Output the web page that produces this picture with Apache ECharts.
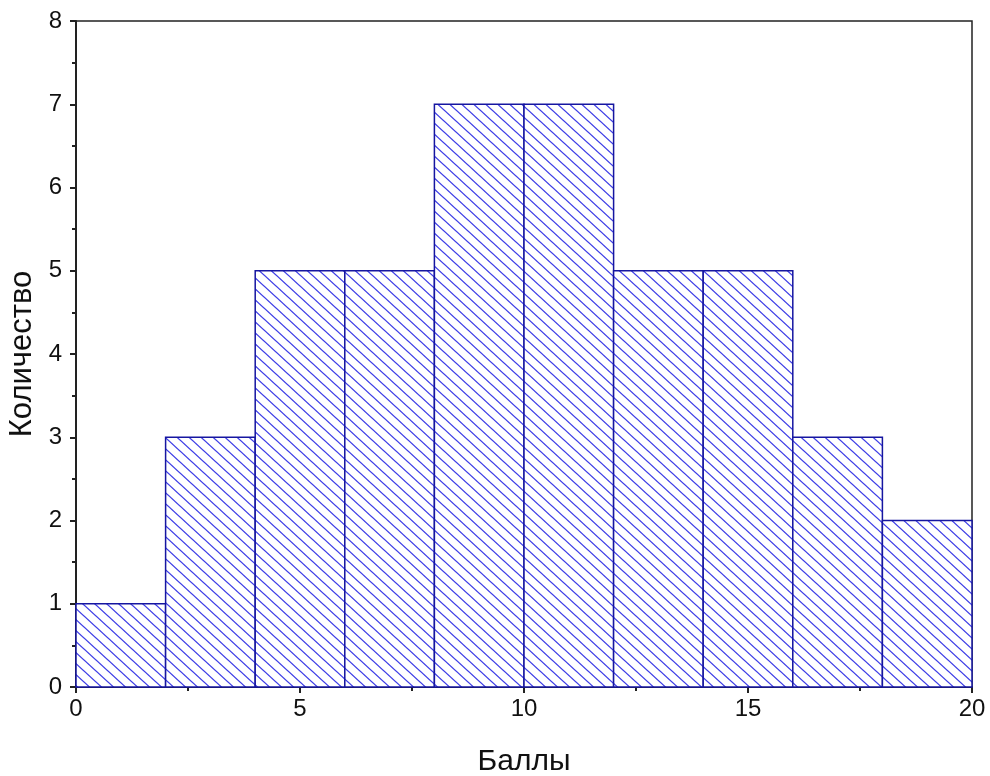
<!DOCTYPE html>
<html>
<head>
<meta charset="utf-8">
<script src="https://cdn.jsdelivr.net/npm/echarts@6/dist/echarts.min.js"></script>
<style>html,body{margin:0;padding:0;background:#fff;}#c{width:990px;height:776px;}</style>
</head>
<body>
<div id="c"></div>
<script>
// Histogram data: bin edges and counts
const binStarts = [0, 2, 4, 6, 8, 10, 12, 14, 16, 18];
const binEnds   = [2, 4, 6, 8, 10, 12, 14, 16, 18, 20];
const counts    = [1, 3, 5, 5, 7, 7, 5, 5, 3, 2];
const xLabel = 'Баллы';
const yLabel = 'Количество';

// hatch pattern
const tile = document.createElement('canvas');
const TW = 12, TH = 11;
tile.width = TW; tile.height = TH;
const g = tile.getContext('2d');
g.fillStyle = '#ffffff';
g.fillRect(0, 0, TW, TH);
g.strokeStyle = '#3a3ae6';
g.lineWidth = 1.25;
for (let dx = -TW; dx <= TW; dx += TW) {
  for (let dy = -TH; dy <= TH; dy += TH) {
    g.beginPath();
    g.moveTo(dx, dy);
    g.lineTo(dx + TW, dy + TH);
    g.stroke();
  }
}

const data = binStarts.map((s, i) => [s, binEnds[i], counts[i]]);

const chart = echarts.init(document.getElementById('c'), null, {renderer: 'canvas'});
const axisCol = '#222222';
const font = 'Liberation Sans, Arial';
chart.setOption({
  animation: false,
  backgroundColor: '#ffffff',
  grid: {left: 76, right: 18, top: 21, bottom: 89, outerBoundsMode: 'none', containLabel: false,
         show: true, borderColor: axisCol, borderWidth: 1.5, backgroundColor: 'transparent'},
  xAxis: {
    type: 'value', min: 0, max: 20, interval: 5,
    name: xLabel, nameLocation: 'middle', nameGap: 60,
    nameTextStyle: {fontFamily: font, fontSize: 30, color: '#111'},
    axisLine: {show: true, lineStyle: {color: axisCol, width: 2}},
    axisTick: {show: true, inside: false, length: 6, lineStyle: {color: axisCol, width: 2}},
    minorTick: {show: true, splitNumber: 2, length: 4, lineStyle: {color: axisCol, width: 2}},
    splitLine: {show: false},
    axisLabel: {fontFamily: font, fontSize: 24, color: '#111', margin: 10}
  },
  yAxis: {
    type: 'value', min: 0, max: 8, interval: 1,
    name: yLabel, nameLocation: 'middle', nameGap: 32, nameRotate: 90,
    nameTextStyle: {fontFamily: font, fontSize: 31, color: '#111'},
    axisLine: {show: true, lineStyle: {color: axisCol, width: 2}},
    axisTick: {show: true, inside: false, length: 6, lineStyle: {color: axisCol, width: 2}},
    minorTick: {show: true, splitNumber: 2, length: 4, lineStyle: {color: axisCol, width: 2}},
    splitLine: {show: false},
    axisLabel: {fontFamily: font, fontSize: 24, color: '#111', margin: 14}
  },
  series: [{
    type: 'custom',
    data: data,
    encode: {x: [0, 1], y: 2},
    renderItem: function (params, api) {
      const p0 = api.coord([api.value(0), api.value(2)]);
      const p1 = api.coord([api.value(1), 0]);
      return {
        type: 'rect',
        shape: {x: p0[0], y: p0[1], width: p1[0] - p0[0], height: p1[1] - p0[1]},
        style: {fill: {image: tile, repeat: 'repeat'}, stroke: '#1616a0', lineWidth: 1.5}
      };
    }
  }]
});
</script>
</body>
</html>
